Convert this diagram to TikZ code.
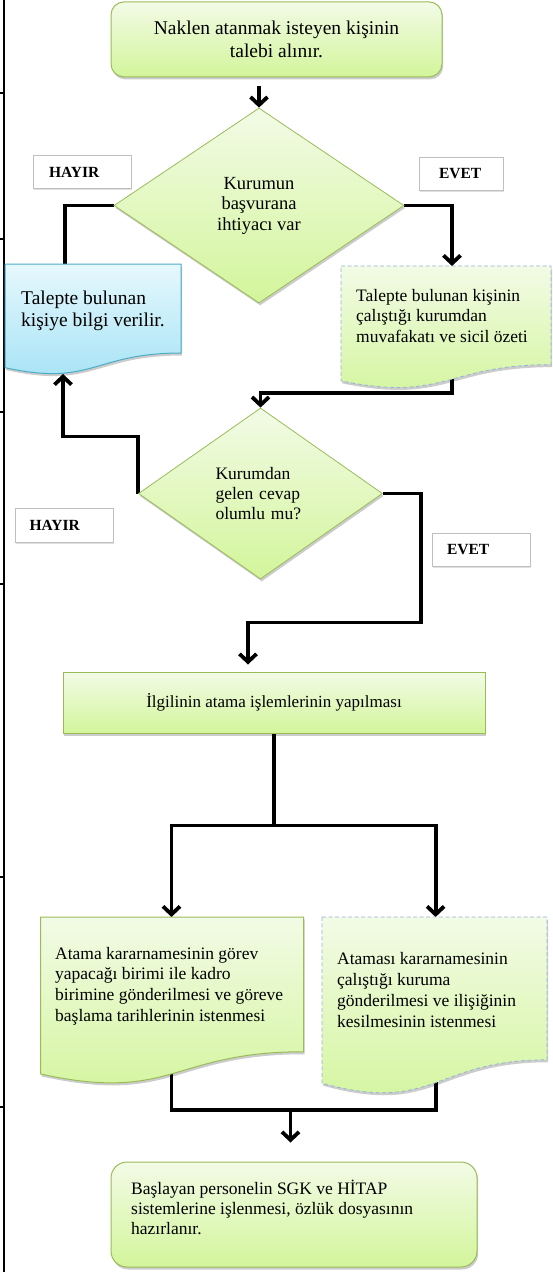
\documentclass[tikz,border=0pt]{standalone}
\usepackage{fontspec}
\setmainfont{Liberation Serif}
\usetikzlibrary{shapes.geometric,arrows.meta,shadows,backgrounds,calc}

\definecolor{gtop}{HTML}{F2FBE6}
\definecolor{gbot}{HTML}{D3F59B}
\definecolor{gline}{HTML}{9BBB59}
\definecolor{btop}{HTML}{E6F8FD}
\definecolor{bbot}{HTML}{A3E2F5}
\definecolor{bline}{HTML}{4BACC6}
\definecolor{dline}{HTML}{95B3D7}
\definecolor{lline}{HTML}{BFBFBF}

% flowchart "document" outline with a wavy bottom edge
% #1 style, #2 x0, #3 y0, #4 x1, #5 height
\newcommand{\flowdoc}[5]{%
  \pgfmathsetmacro\fdya{#3+0.802*#5}%
  \pgfmathsetmacro\fdyb{#3+1.1075*#5}%
  \pgfmathsetmacro\fdyc{#3+0.934*#5}%
  \pgfmathsetmacro\fdxm{(#2+#4)/2}%
  \path[#1] (#2,#3) -- (#4,#3) -- (#4,\fdya) .. controls (\fdxm,\fdya) and (\fdxm,\fdyb) .. (#2,\fdyc) -- cycle;%
}

\begin{document}
\begin{tikzpicture}[x=1pt,y=-1pt,
  shade green/.style={top color=gtop,bottom color=gbot},
  shade blue/.style={top color=btop,bottom color=bbot},
  soft shadow/.style={drop shadow={shadow xshift=1.2pt,shadow yshift=-2.5pt,opacity=0.2,fill=black}},
  terminal/.style={rectangle,rounded corners=13pt,draw=gline,line width=1pt,shade green,soft shadow,inner sep=0pt},
  decision/.style={diamond,draw=gline,line width=0.8pt,shade green,soft shadow,inner sep=0pt},
  process/.style={rectangle,draw=gline,line width=1pt,shade green,soft shadow,inner sep=0pt},
  answer/.style={rectangle,draw=lline,line width=0.8pt,fill=white,inner sep=0pt,align=left,
    font=\fontsize{15.5}{18}\selectfont\bfseries,
    drop shadow={shadow xshift=1pt,shadow yshift=-1.5pt,opacity=0.12,fill=black}},
  doctext/.style={anchor=west,inner sep=0pt,align=left},
  conn/.style={line width=3.8pt,draw=black},
  arr/.style={conn,-{Straight Barb[length=8pt,width=17pt]}},
]
\useasboundingbox (0,0) rectangle (552,1272);

% page border on the left with its row ticks
\draw[line width=2pt] (3.7,0) -- (3.7,1272);
\foreach \ty in {93,239,412,584,877,1107}
  \draw[line width=1.5pt] (0,\ty) -- (3.7,\ty);

% start
\node[terminal,minimum width=331pt,minimum height=75pt,align=center,
      font=\fontsize{19.5}{23}\selectfont] (start) at (276.5,39.4)
  {Naklen atanmak isteyen kişinin\\talebi alınır.};

% first decision
\node[decision,minimum width=290pt,minimum height=195pt,align=center,
      font=\fontsize{18.5}{20.5}\selectfont] (d1) at (259,205.5)
  {Kurumun\\başvurana\\ihtiyacı var};
\node[answer,minimum height=33pt,text width=66pt,inner xsep=16pt] (no1) at (82,172) {HAYIR};
\node[answer,minimum height=33pt,text width=44pt,inner xsep=20pt] (yes1) at (461,173.5) {EVET};

% information to the applicant
\flowdoc{shade blue,draw=bline,line width=1pt,soft shadow}{5}{264}{181}{111}
\node[doctext,font=\fontsize{19.5}{21.7}\selectfont] (info) at (21,311)
  {Talepte bulunan\\kişiye bilgi verilir.};

% request to the current institution
\flowdoc{shade green,draw=dline,line width=0.8pt,dash pattern=on 4pt off 2.5pt,soft shadow}{341}{266}{551}{123}
\node[doctext,font=\fontsize{17.5}{20.7}\selectfont] (req) at (356,316)
  {Talepte bulunan kişinin\\çalıştığı kurumdan\\muvafakatı ve sicil özeti};

% second decision
\node[decision,minimum width=244pt,minimum height=171pt,text width=90pt,align=left,
      font=\fontsize{17.5}{20}\selectfont] (d2) at (260.5,493.5)
  {Kurumdan\\gelen cevap\\olumlu mu?};
\node[answer,minimum height=34pt,text width=69pt,inner xsep=14.5pt] (no2) at (64,525) {HAYIR};
\node[answer,minimum height=33pt,text width=68pt,inner xsep=15pt] (yes2) at (481,549.5) {EVET};

% appointment
\node[process,minimum width=422pt,minimum height=61pt,
      font=\fontsize{17}{20}\selectfont] (task) at (274,702.5)
  {İlgilinin atama işlemlerinin yapılması};

% the two documents
\flowdoc{shade green,draw=gline,line width=1pt,soft shadow}{40.5}{917}{303.5}{168}
\node[doctext,font=\fontsize{17.5}{20.7}\selectfont] (docL) at (55,986)
  {Atama kararnamesinin görev\\yapacağı birimi ile kadro\\birimine gönderilmesi ve göreve\\başlama tarihlerinin istenmesi};
\flowdoc{shade green,draw=dline,line width=0.8pt,dash pattern=on 4pt off 2.5pt,soft shadow}{322}{917}{547}{178}
\node[doctext,font=\fontsize{17.5}{20.7}\selectfont] (docR) at (337,990)
  {Ataması kararnamesinin\\çalıştığı kuruma\\gönderilmesi ve ilişiğinin\\kesilmesinin istenmesi};

% end
\node[terminal,rounded corners=16pt,minimum width=366pt,minimum height=105pt] (final) at (294,1214.5) {};
\node[doctext,font=\fontsize{17.5}{20}\selectfont] (finaltext) at (131,1207)
  {Başlayan personelin SGK ve HİTAP\\sistemlerine işlenmesi, özlük dosyasının\\hazırlanır.};

% connection points on the document outlines
\coordinate (infoTop) at (65,264);
\coordinate (infoBot) at (63,374);
\coordinate (reqTop) at (452,266);
\coordinate (reqBot) at (452,372);
\coordinate (docLTop) at (171.5,917);
\coordinate (docLBot) at (171.5,1060);
\coordinate (docRTop) at (435.6,917);
\coordinate (docRBot) at (435.6,1070);
\coordinate (a0) at (259,86);
\coordinate (join) at (290.5,1110);

\begin{scope}[on background layer]
  \draw[arr] (a0) -- (a0 |- d1.north);
  \draw[conn] (d1.west) -| (infoTop);
  \draw[arr] (d1.east) -| (reqTop);
  \draw[arr] (reqBot) |- ($(d2.north)+(0,-15)$) -- (d2.north);
  \draw[arr] (d2.west) -- ++(0,-57) -| (infoBot);
  \draw[arr,shorten >=7pt] (d2.east) -- ++(38,0) |- ([xshift=-26pt,yshift=49pt]task.north) -- ([xshift=-26pt]task.north);
  \draw[arr] (task.south) -- ++(0,92) -| (docLTop);
  \draw[arr] (task.south) -- ++(0,92) -| (docRTop);
  \draw[conn] (docLBot) |- (join);
  \draw[conn] (docRBot) |- (join);
  \draw[arr,shorten >=19pt] (join) -- (join |- final.north);
\end{scope}
\end{tikzpicture}
\end{document}
